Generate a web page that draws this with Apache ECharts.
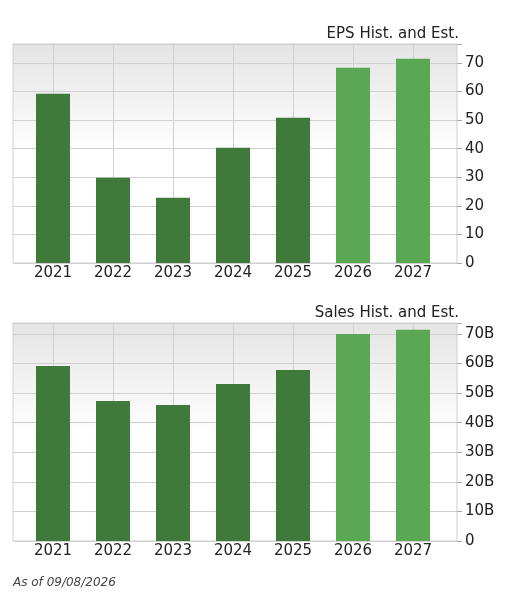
<!DOCTYPE html><html><head><meta charset="utf-8">
<script src="https://cdn.jsdelivr.net/npm/echarts@6/dist/echarts.min.js"></script>
<style>html,body{margin:0;padding:0;background:#fff}#c{width:522px;height:607px}</style></head>
<body><div id="c"></div><script>
const years=['2021','2022','2023','2024','2025','2026','2027'];
const isEstimate=[false,false,false,false,false,true,true];
const eps=[59.2,29.8,22.8,40.3,50.8,68.3,71.4];
const salesB=[59.2,47.3,46.0,53.1,57.8,70.0,71.4];
const epsTicks=[0,10,20,30,40,50,60,70];
const salesTicks=[0,10,20,30,40,50,60,70];
const DARK='#3f7a3a',LIGHT='#5aa854';
const font='"DejaVu Sans", sans-serif';
const chart=echarts.init(document.getElementById('c'));
const bg={type:'linear',x:0,y:0,x2:0,y2:1,colorStops:[{offset:0,color:'#e4e4e4'},{offset:0.5,color:'#ffffff'},{offset:1,color:'#ffffff'}]};
function panel(top,bottom,max,fmt){return {top,bottom,max,fmt};}
const P=[panel(44,607-263,76.6,v=>String(v)),panel(323,607-541,73.7,v=>v===0?'0':v+'B')];
const data=[eps,salesB];
const grid=[],xAxis=[],yAxis=[],series=[];
P.forEach((p,i)=>{
  grid.push({left:13,right:65,top:p.top,bottom:p.bottom,show:true,backgroundColor:bg,borderColor:'#cfcfcf',borderWidth:1});
  grid.push({left:53,right:109,top:p.top,bottom:p.bottom});
  xAxis.push({gridIndex:2*i,type:'value',show:false,min:0,max:1});
  xAxis.push({gridIndex:2*i+1,type:'category',data:years,boundaryGap:false,
    axisLine:{show:false},axisTick:{show:false},
    axisLabel:{color:'#222',fontSize:15,fontFamily:font,margin:3},
    splitLine:{show:true,lineStyle:{color:'#d0d0d0',width:1}}});
  yAxis.push({gridIndex:2*i,type:'value',min:0,max:p.max,interval:10,axisLabel:{show:false},axisLine:{show:false},axisTick:{show:false},splitLine:{show:true,lineStyle:{color:'#d0d0d0'}}});
  yAxis.push({gridIndex:2*i+1,type:'value',min:0,max:p.max,interval:10,position:'right',offset:44,
    axisLine:{show:false},axisTick:{show:true,length:5,lineStyle:{color:'#aaa'}},splitLine:{show:false},
    axisLabel:{color:'#222',fontSize:15,fontFamily:font,margin:8,formatter:v=>((i?salesTicks:epsTicks).includes(v)?p.fmt(v):'')}});
  series.push({type:'bar',xAxisIndex:2*i+1,yAxisIndex:2*i+1,barWidth:34,
    data:data[i].map((v,k)=>({value:v,itemStyle:{color:isEstimate[k]?LIGHT:DARK}}))});
});
chart.setOption({animation:false,
  title:[{text:'EPS Hist. and Est.',right:58,top:22},{text:'Sales Hist. and Est.',right:58,top:301}].map(t=>Object.assign(t,{textStyle:{fontSize:15,fontWeight:'normal',color:'#222',fontFamily:font}})),
  graphic:[{type:'text',left:13,top:577,style:{text:'As of 09/08/2026',font:'italic 12px '+font,fill:'#444'}}],
  grid,xAxis,yAxis,series});
</script></body></html>
